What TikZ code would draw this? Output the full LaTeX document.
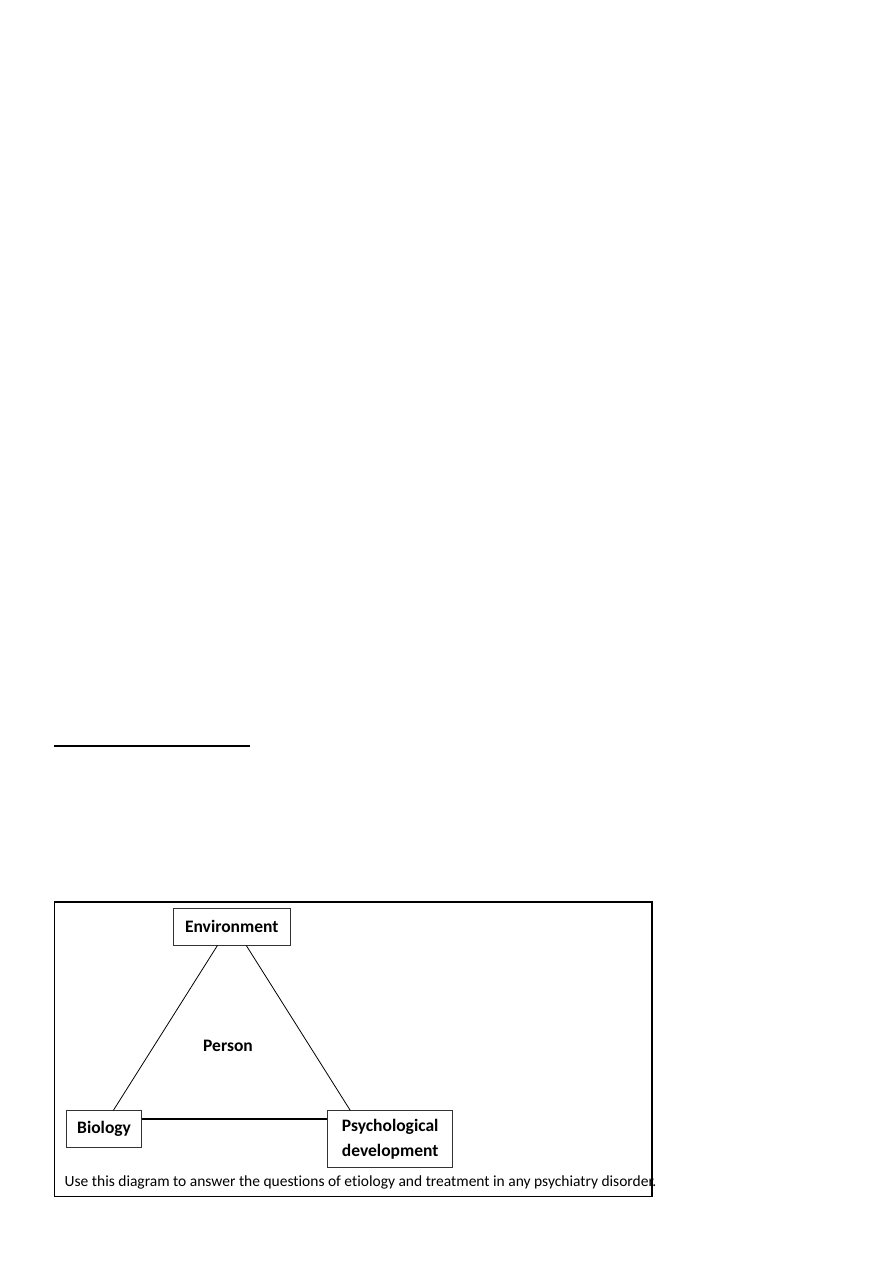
\documentclass[tikz,border=0pt]{standalone}
\usepackage{fontspec}
\setmainfont{Carlito}[Ligatures=NoCommon]
\usetikzlibrary{positioning}

\begin{document}
\begin{tikzpicture}[x=1pt, y=-1pt,
  factor/.style={draw=black!80, line width=0.8pt, align=center, inner sep=0pt,
    font=\fontsize{17.5}{25}\selectfont\bfseries},
  link/.style={line width=0.8pt}]

\useasboundingbox[fill=white] (0,0) rectangle (893,1263);

% rule above the figure
\draw[line width=2pt] (54,746) -- (250,746);

% outer frame
\draw[line width=1.2pt] (54.5,902) rectangle (652,1196.5);

% the three factors round the person
\node[factor, minimum width=117.5pt, minimum height=36.7pt] (env) at (231.75,926.7) {Environment};
\node[factor, minimum width=75.5pt, minimum height=36.6pt] (bio) at (104.1,1129) {Biology};
\node[factor, minimum width=125pt, minimum height=56.6pt] (psy) at (390.2,1139) {Psychological\\development};
\node[font=\fontsize{17.5}{21}\selectfont\bfseries] (person) at (228,1045.5) {Person};

\draw[link] ([xshift=-14.3pt]env.south) -- ([xshift=9.3pt]bio.north);
\draw[link] ([xshift=14.5pt]env.south) -- ([xshift=-40pt]psy.north);
\draw[line width=1.6pt] ([yshift=10pt]bio.east) -- ([yshift=20pt]psy.west);

% caption
\node[anchor=west, inner sep=0pt, font=\fontsize{15.5}{18}\selectfont] (note) at (64.5,1182)
  {Use this diagram to answer the questions of etiology and treatment in any psychiatry disorder.};

\end{tikzpicture}
\end{document}
